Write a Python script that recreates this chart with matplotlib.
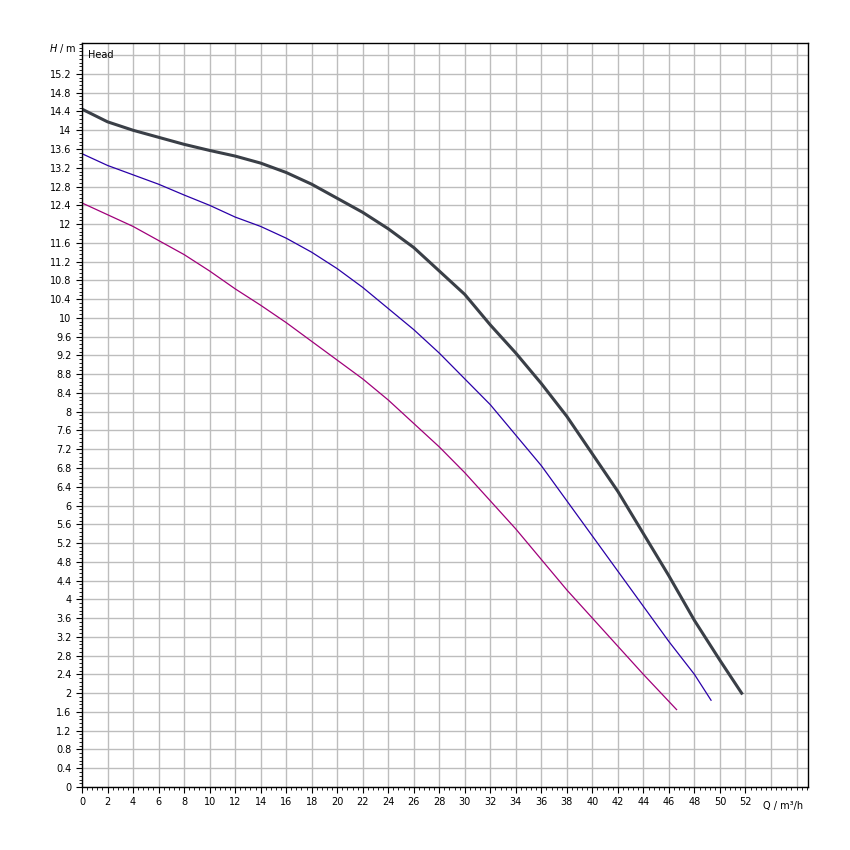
import matplotlib
matplotlib.use("Agg")
import matplotlib.pyplot as plt
import numpy as np
from matplotlib.ticker import MultipleLocator

# Pump curves: flow Q (m³/h) vs head H (m)
q_max = [0, 2, 4, 6, 8, 10, 12, 14, 16, 18, 20, 22, 24, 26, 28, 30, 32, 34, 36, 38, 40, 42, 44, 46, 48, 50, 51.7]
h_max = [14.45, 14.18, 14.0, 13.85, 13.7, 13.57, 13.45, 13.3, 13.1, 12.85, 12.55, 12.25, 11.9, 11.5, 11.0,
         10.5, 9.85, 9.25, 8.6, 7.9, 7.1, 6.3, 5.4, 4.5, 3.55, 2.7, 2.0]
q_mid = [0, 2, 4, 6, 8, 10, 12, 14, 16, 18, 20, 22, 24, 26, 28, 30, 32, 34, 36, 38, 40, 42, 44, 46, 48, 49.3]
h_mid = [13.5, 13.25, 13.05, 12.85, 12.62, 12.4, 12.15, 11.95, 11.7, 11.4, 11.05, 10.65, 10.2, 9.75, 9.25,
         8.7, 8.15, 7.5, 6.85, 6.1, 5.35, 4.6, 3.85, 3.1, 2.4, 1.85]
q_min = [0, 2, 4, 6, 8, 10, 12, 14, 16, 18, 20, 22, 24, 26, 28, 30, 32, 34, 36, 38, 40, 42, 44, 46.6]
h_min = [12.45, 12.2, 11.95, 11.65, 11.35, 11.0, 10.62, 10.27, 9.9, 9.5, 9.1, 8.7, 8.25, 7.75, 7.25,
         6.7, 6.1, 5.5, 4.85, 4.2, 3.6, 3.0, 2.4, 1.65]

plt.rcParams["font.family"] = ["DejaVu Sans"]
fig = plt.figure(figsize=(8.5, 8.5), dpi=100)
ax = fig.add_axes([0.0965, 0.0741, 0.8541, 0.8753])

ax.plot(q_max, h_max, color="#3a3f47", linewidth=2.2)
ax.plot(q_mid, h_mid, color="#2a00a8", linewidth=0.9)
ax.plot(q_min, h_min, color="#a0007a", linewidth=0.9)

ax.set_xlim(0, 56.9)
ax.set_ylim(0, 15.86)
ax.set_xticks(np.arange(0, 53, 2))
yt = np.round(np.arange(0, 15.3, 0.4), 1)
ax.set_yticks(yt)
ax.set_yticklabels([f"{v:g}" for v in yt])
ax.xaxis.set_minor_locator(MultipleLocator(0.4))
ax.yaxis.set_minor_locator(MultipleLocator(0.08))
ax.tick_params(labelsize=7, length=4, width=0.8, direction="out")
ax.tick_params(which="minor", length=2, width=0.6)

# grid lines continue past the labelled ticks
for x in np.arange(0, 57, 2):
    ax.axvline(x, color="#bdbdbd", linewidth=1, zorder=0)
for y in np.arange(0, 15.9, 0.4):
    ax.axhline(y, color="#bdbdbd", linewidth=1, zorder=0)

for s in ax.spines.values():
    s.set_linewidth(1)

ax.text(0.5, 15.6, "Head", fontsize=7, va="center")
ax.text(-0.4, 15.75, "$H$ / m", fontsize=7, ha="right", va="center")
ax.text(56.5, -0.3, "Q / m³/h", fontsize=7, ha="right", va="top")

fig.savefig("out.png")
